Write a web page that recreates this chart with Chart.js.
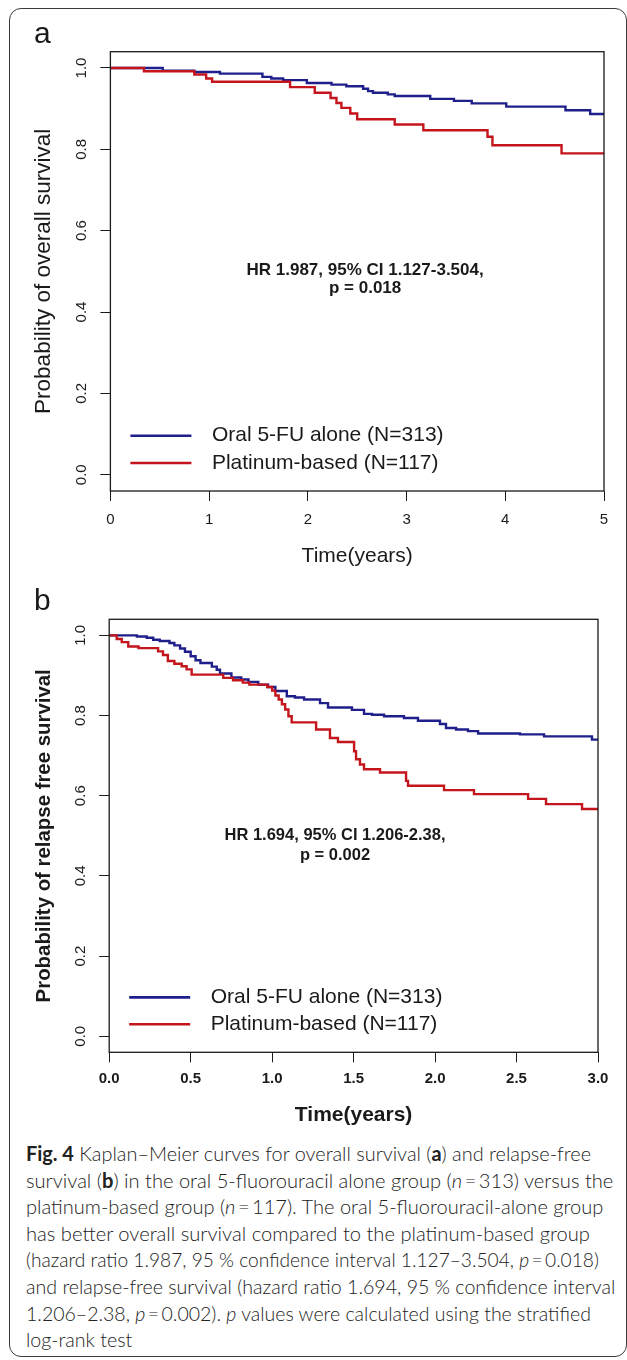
<!DOCTYPE html>
<html>
<head>
<meta charset="utf-8">
<title>Fig. 4 Kaplan–Meier curves</title>
<script src="https://cdn.jsdelivr.net/npm/chart.js@4.4.1/dist/chart.umd.min.js"></script>
<style>
  html, body { margin: 0; padding: 0; background: #fff; }
  body { width: 627px; height: 1360px; position: relative; overflow: hidden; }
  #frame {
    position: absolute; left: 9px; top: 8px; width: 618px; height: 1349px;
    box-sizing: border-box; border: 1.5px solid #3a3a3a; border-radius: 12px;
  }
  canvas { position: absolute; left: 0; }
  #km-a { top: 0; }
  #km-b { top: 580px; }
  #caption {
    position: absolute; left: 26px; top: 1140px;
    font-family: Lato, 'Open Sans', sans-serif; font-weight: 300;
    font-size: 20px; line-height: 26.6px; color: #222;
  }
  #caption div { white-space: nowrap; width: max-content; transform-origin: 0 50%; }
  #caption b { font-weight: 700; }
</style>
</head>
<body>
<div id="frame"></div>
<canvas id="km-a" width="627" height="580"></canvas>
<canvas id="km-b" width="627" height="560"></canvas>
<div id="caption">
  <div><b>Fig. 4</b> Kaplan–Meier curves for overall survival (<b>a</b>) and relapse-free</div>
  <div>survival (<b>b</b>) in the oral 5-fluorouracil alone group (<i>n</i>&thinsp;=&thinsp;313) versus the</div>
  <div>platinum-based group (<i>n</i>&thinsp;=&thinsp;117). The oral 5-fluorouracil-alone group</div>
  <div>has better overall survival compared to the platinum-based group</div>
  <div>(hazard ratio 1.987, 95 % confidence interval 1.127–3.504, <i>p</i>&thinsp;=&thinsp;0.018)</div>
  <div>and relapse-free survival (hazard ratio 1.694, 95 % confidence interval</div>
  <div>1.206–2.38, <i>p</i>&thinsp;=&thinsp;0.002). <i>p</i> values were calculated using the stratified</div>
  <div>log-rank test</div>
</div>
<script>
// ── Data ─────────────────────────────────────────────────────────────────────

const groupNames = ['Oral 5-FU alone (N=313)', 'Platinum-based (N=117)'];

// (a) overall survival: step times (years) and survival after each step
const osFuTimes = [0, 0.53, 0.85, 1.11, 1.54, 1.63, 1.75, 1.99, 2.24, 2.39, 2.56, 2.61,
  2.66, 2.81, 2.88, 3.24, 3.48, 3.66, 4.01, 4.61, 4.86, 5.0];
const osFuSurv = [1.0, 0.993, 0.990, 0.986, 0.978, 0.974, 0.970, 0.963, 0.959, 0.955, 0.949, 0.943,
  0.939, 0.935, 0.931, 0.924, 0.919, 0.913, 0.905, 0.896, 0.887, 0.887];

const osPtTimes = [0, 0.34, 0.85, 0.97, 1.03, 1.82, 2.07, 2.23, 2.29, 2.34, 2.43, 2.50,
  2.88, 3.17, 3.82, 3.87, 4.57, 5.0];
const osPtSurv = [1.0, 0.992, 0.984, 0.974, 0.966, 0.953, 0.939, 0.926, 0.914, 0.902, 0.888, 0.874,
  0.861, 0.847, 0.831, 0.810, 0.790, 0.790];

// (b) relapse-free survival
const rfsFuTimes = [0, 0.17, 0.23, 0.27, 0.31, 0.37, 0.40, 0.435, 0.465, 0.50, 0.53, 0.56,
  0.63, 0.66, 0.68, 0.75, 0.81, 0.855, 0.915, 0.975, 1.02, 1.09, 1.14, 1.196, 1.294, 1.343,
  1.49, 1.564, 1.613, 1.687, 1.809, 1.895, 2.03, 2.067, 2.129, 2.202, 2.264, 2.521, 2.669,
  2.963, 3.0];
const rfsFuSurv = [1.0, 0.997, 0.994, 0.989, 0.986, 0.981, 0.975, 0.967, 0.959, 0.948, 0.938, 0.931,
  0.922, 0.914, 0.905, 0.895, 0.890, 0.884, 0.877, 0.871, 0.861, 0.848, 0.845, 0.840, 0.831, 0.820,
  0.814, 0.804, 0.802, 0.798, 0.794, 0.787, 0.779, 0.769, 0.765, 0.761, 0.755, 0.753, 0.748,
  0.740, 0.740];

const rfsPtTimes = [0, 0.046, 0.077, 0.117, 0.18, 0.30, 0.33, 0.36, 0.40, 0.445, 0.475, 0.506,
  0.70, 0.76, 0.82, 0.86, 0.97, 1.00, 1.02, 1.04, 1.06, 1.08, 1.10, 1.12, 1.27, 1.355, 1.404,
  1.503, 1.515, 1.539, 1.564, 1.662, 1.822, 1.834, 2.055, 2.239, 2.571, 2.681, 2.902, 3.0];
const rfsPtSurv = [1.0, 0.991, 0.983, 0.972, 0.968, 0.960, 0.951, 0.936, 0.929, 0.923, 0.915, 0.902,
  0.894, 0.888, 0.882, 0.877, 0.871, 0.862, 0.850, 0.840, 0.828, 0.815, 0.798, 0.783, 0.765, 0.744, 0.734,
  0.711, 0.691, 0.678, 0.666, 0.658, 0.637, 0.625, 0.614, 0.604, 0.592, 0.579, 0.567, 0.567];

// ticks
const survTicks = [0, 0.2, 0.4, 0.6, 0.8, 1.0];
const survTickLabels = ['0.0', '0.2', '0.4', '0.6', '0.8', '1.0'];
const osYearTicks = [0, 1, 2, 3, 4, 5];
const osYearLabels = ['0', '1', '2', '3', '4', '5'];
const rfsYearTicks = [0, 0.5, 1, 1.5, 2, 2.5, 3];
const rfsYearLabels = ['0.0', '0.5', '1.0', '1.5', '2.0', '2.5', '3.0'];

const osStats = ['HR 1.987, 95% CI 1.127-3.504,', 'p = 0.018'];
const rfsStats = ['HR 1.694, 95% CI 1.206-2.38,', 'p = 0.002'];

// ── Styling ──────────────────────────────────────────────────────────────────

const INK = '#1a1a1a';
const BLUE = '#1f1f8c';
const RED = '#c4151c';
const FONT = "'Liberation Sans', Arial, sans-serif";

// ── Decorations drawn R-style: box, parallel y labels, legend, stats ─────────

const kmDecor = {
  id: 'kmDecor',
  afterDraw(chart, args, opts) {
    const { ctx, chartArea: a, scales: { x, y } } = chart;
    ctx.save();

    ctx.strokeStyle = INK;
    ctx.lineWidth = 1.3;
    ctx.strokeRect(a.left, a.top, a.right - a.left, a.bottom - a.top);

    ctx.fillStyle = INK;
    ctx.font = `15px ${FONT}`;
    ctx.textAlign = 'center';
    ctx.textBaseline = 'middle';
    survTicks.forEach((v, i) => {
      ctx.save();
      ctx.translate(opts.yLabelX, y.getPixelForValue(v));
      ctx.rotate(-Math.PI / 2);
      ctx.fillText(survTickLabels[i], 0, 0);
      ctx.restore();
    });

    // legend, bottom left inside the box
    ctx.textAlign = 'left';
    ctx.font = `21px ${FONT}`;
    chart.data.datasets.forEach((ds, i) => {
      const py = y.getPixelForValue(opts.legendAt[i]);
      ctx.strokeStyle = ds.borderColor;
      ctx.lineWidth = 2.6;
      ctx.beginPath();
      ctx.moveTo(a.left + 20, py);
      ctx.lineTo(a.left + 81, py);
      ctx.stroke();
      ctx.fillStyle = INK;
      ctx.fillText(ds.label, a.left + 101.5, py);
    });

    // hazard ratio note
    ctx.textAlign = 'center';
    ctx.font = `bold ${opts.statsSize}px ${FONT}`;
    opts.stats.forEach((line, i) => {
      ctx.fillText(line, x.getPixelForValue(opts.statsX), y.getPixelForValue(opts.statsY[i]));
    });

    // panel letter
    ctx.textAlign = 'left';
    ctx.textBaseline = 'alphabetic';
    ctx.font = `30px ${FONT}`;
    ctx.fillText(opts.letter, opts.letterX, opts.letterY);

    ctx.restore();
  },
};

function kmDataset(label, times, surv, color, order) {
  return {
    label,
    data: times.map((t, i) => ({ x: t, y: surv[i] })),
    borderColor: color,
    borderWidth: 2.4,
    pointRadius: 0,
    stepped: true,
    fill: false,
    order,
  };
}

function makeKM(id, cfg) {
  const weight = cfg.bold ? 'bold' : 'normal';
  return new Chart(document.getElementById(id), {
    type: 'line',
    data: {
      datasets: [
        kmDataset(groupNames[0], cfg.fuTimes, cfg.fuSurv, BLUE, 1),
        kmDataset(groupNames[1], cfg.ptTimes, cfg.ptSurv, RED, 0),
      ],
    },
    options: {
      responsive: false,
      animation: false,
      devicePixelRatio: 1,
      layout: { padding: { left: 0, top: cfg.top, right: cfg.right, bottom: 0 } },
      plugins: {
        legend: { display: false },
        tooltip: { enabled: false },
        kmDecor: cfg.decor,
      },
      scales: {
        x: {
          type: 'linear',
          min: 0,
          max: cfg.xMax,
          afterBuildTicks: s => { s.ticks = cfg.xTicks.map(v => ({ value: v })); },
          afterFit: s => { s.height = cfg.xAxisHeight; },
          grid: { drawOnChartArea: false, drawTicks: true, tickLength: 10, color: INK, lineWidth: 1 },
          border: { display: false },
          ticks: {
            autoSkip: false,
            maxRotation: 0,
            padding: cfg.xLabelPad,
            color: INK,
            font: { size: 15, family: FONT, weight },
            callback: (v, i) => cfg.xLabels[i],
          },
          title: {
            display: true,
            text: 'Time(years)',
            color: INK,
            font: { size: 21, family: FONT, weight },
            padding: { top: 0, bottom: cfg.xTitlePad },
          },
        },
        y: {
          type: 'linear',
          min: -0.04,
          max: 1.04,
          afterBuildTicks: s => { s.ticks = survTicks.map(v => ({ value: v })); },
          afterFit: s => { s.width = cfg.yAxisWidth; },
          grid: { drawOnChartArea: false, drawTicks: true, tickLength: 10, color: INK, lineWidth: 1 },
          border: { display: false },
          ticks: { display: false },
          title: {
            display: true,
            text: cfg.yTitle,
            color: INK,
            font: { size: cfg.yTitleSize, family: FONT, weight },
            padding: { top: cfg.yTitlePad, bottom: 0 },
          },
        },
      },
    },
    plugins: [kmDecor],
  });
}

makeKM('km-a', {
  fuTimes: osFuTimes, fuSurv: osFuSurv, ptTimes: osPtTimes, ptSurv: osPtSurv,
  xMax: 5, xTicks: osYearTicks, xLabels: osYearLabels,
  yTitle: 'Probability of overall survival', yTitleSize: 22.5, bold: false,
  top: 51.7, right: 23, yAxisWidth: 110.4, xAxisHeight: 89,
  xLabelPad: 10, xTitlePad: 11.4, yTitlePad: 30.5,
  decor: {
    letter: 'a', letterX: 34, letterY: 43, yLabelX: 82,
    legendAt: [0.096, 0.029],
    stats: osStats, statsSize: 17, statsX: 2.58, statsY: [0.503, 0.458],
  },
});

makeKM('km-b', {
  fuTimes: rfsFuTimes, fuSurv: rfsFuSurv, ptTimes: rfsPtTimes, ptSurv: rfsPtSurv,
  xMax: 3, xTicks: rfsYearTicks, xLabels: rfsYearLabels,
  yTitle: 'Probability of relapse free survival', yTitleSize: 20.4, bold: true,
  top: 39.3, right: 29, yAxisWidth: 109.2, xAxisHeight: 87.7,
  xLabelPad: 7.7, xTitlePad: 12.4, yTitlePad: 32,
  decor: {
    letter: 'b', letterX: 34, letterY: 30, yLabelX: 81,
    legendAt: [0.097, 0.030],
    stats: rfsStats, statsSize: 16.5, statsX: 1.386, statsY: [0.502, 0.452],
  },
});

// ── Caption: fit each printed line to its width in the original ────────────

const capWidths = [565, 587, 577, 564, 573, 589, 565, 106];
document.querySelectorAll('#caption div').forEach((el, i) => {
  el.style.transform = `scaleX(${capWidths[i] / el.offsetWidth})`;
});
</script>
</body>
</html>
